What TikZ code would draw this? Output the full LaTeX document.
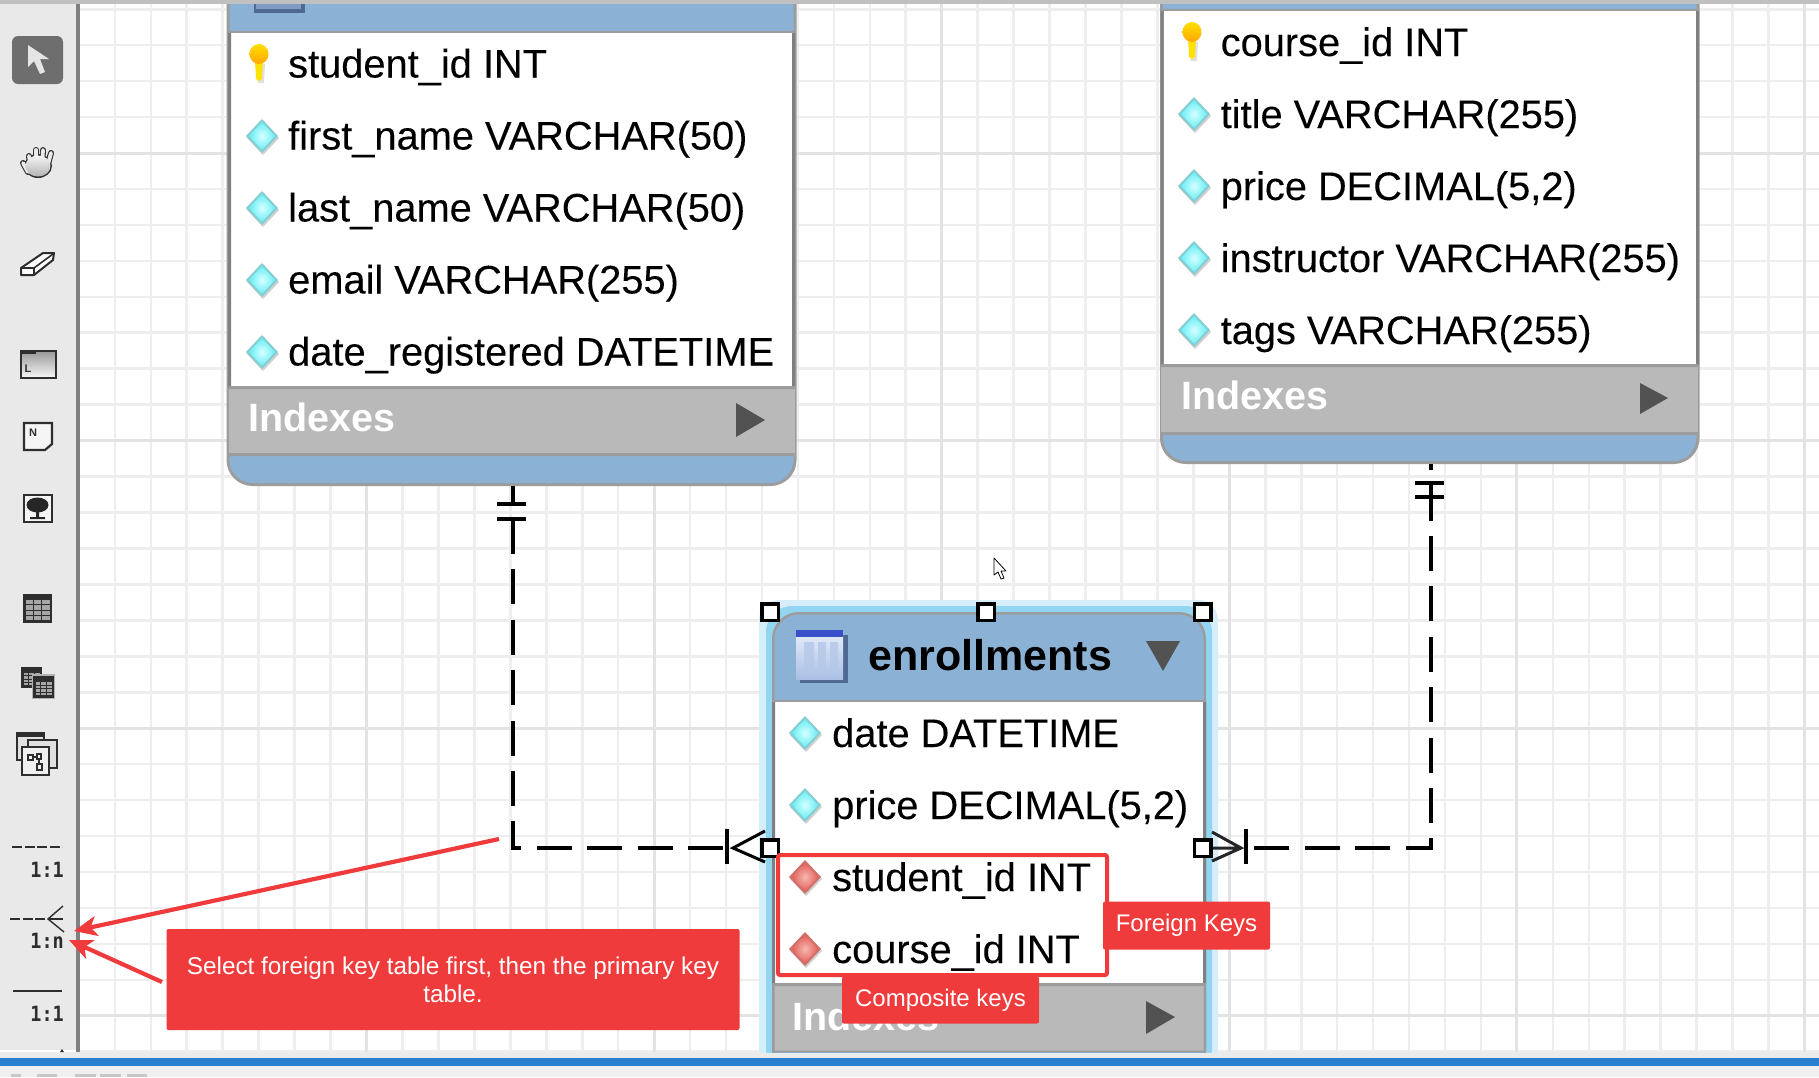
\documentclass[tikz,border=0pt]{standalone}
\usepackage{fontspec}
\setmainfont{Liberation Sans}
\newfontfamily\toolfont{DejaVu Sans Mono}
\newfontfamily\colfont[FakeBold=0.12]{Liberation Sans}
\usetikzlibrary{arrows.meta,shapes.geometric}
\definecolor{hdrblue}{HTML}{8BB2D5}
\definecolor{idxgray}{HTML}{B9B9B9}
\definecolor{edgegray}{HTML}{9C9C9C}
\definecolor{sidegray}{HTML}{808080}
\definecolor{annred}{HTML}{F03B3D}
\definecolor{gridminor}{HTML}{EEEEEE}
\definecolor{gridmajor}{HTML}{E3E3E3}
\definecolor{toolbg}{HTML}{E9E9E9}
\definecolor{tooldark}{HTML}{2E2E2E}
\definecolor{barblue}{HTML}{2B7FD0}
\definecolor{diaedge}{HTML}{86CDD2}
\definecolor{diain}{HTML}{D8FFFF}
\definecolor{diaout}{HTML}{66EEF4}
\definecolor{rededge}{HTML}{D0706A}
\definecolor{redin}{HTML}{F6B8B0}
\definecolor{redout}{HTML}{E4605A}
\definecolor{glowpale}{HTML}{D6EEFA}
\definecolor{glowblue}{HTML}{92D5F0}
\definecolor{iconshadow}{HTML}{4E6A92}
\definecolor{iconlight}{HTML}{E6EEFB}
\definecolor{icondim}{HTML}{A9BFE3}
\definecolor{iconcol}{HTML}{B4C8E8}
\definecolor{icontop}{HTML}{3A4FC8}
\definecolor{iconmid}{HTML}{7E9CC4}
\tikzset{
  coltext/.style={font=\colfont\fontsize{39.8}{40}\selectfont,anchor=base west,inner sep=0pt,text=black},
  idxtext/.style={font=\fontsize{39.5}{40}\selectfont\bfseries,anchor=base west,inner sep=0pt,text=white},
  titletext/.style={font=\fontsize{43}{44}\selectfont\bfseries,anchor=base west,inner sep=0pt,text=black},
  notebox/.style={fill=annred,rounded corners=2pt,text=white,inner sep=0pt,font=\fontsize{24}{28}\selectfont,align=center},
  selhandle/.style={draw=black,line width=3.5pt,fill=white,minimum size=16.5pt,inner sep=0pt,rectangle},
  fkline/.style={draw=black,line width=3.2pt,dash pattern=on 35pt off 15.4pt},
  solidline/.style={draw=black,line width=3.2pt},
  annarrow/.style={draw=annred,line width=4.2pt,-{Stealth[length=23pt,width=20pt,inset=6pt]}},
  bodybox/.style={rectangle,fill=white,inner sep=0pt,anchor=north west},
  toollabel/.style={inner sep=0pt,anchor=base east,text=tooldark},
  pics/attrc/.style={code={
    \fill[black,opacity=.18] (1,-15) -- (17,2) -- (1,19) -- (-15,2) -- cycle;
    \fill[diaedge] (0,-17) -- (16,0) -- (0,17) -- (-16,0) -- cycle;
    \shade[inner color=diain,outer color=diaout] (0,-14) -- (13,0) -- (0,14) -- (-13,0) -- cycle;
  }},
  pics/attrr/.style={code={
    \fill[black,opacity=.18] (1,-15) -- (17,2) -- (1,19) -- (-15,2) -- cycle;
    \fill[rededge] (0,-17) -- (16,0) -- (0,17) -- (-16,0) -- cycle;
    \shade[inner color=redin,outer color=redout] (0,-14) -- (13,0) -- (0,14) -- (-13,0) -- cycle;
  }},
  pics/pkkey/.style={code={
    \fill[black,opacity=.12] (-4,0) -- (6,0) -- (5,19) -- (-1,19) -- cycle;
    \fill[yellow!85!orange] (-4,-6) -- (4,-6) -- (3,15) -- (0,17) -- (-3,15) -- cycle;
    \shade[top color=yellow!75!orange,bottom color=orange!70!yellow] (0,-10) ellipse[x radius=9.5,y radius=10];
  }},
  pics/gridicon/.style 2 args={code={
    \fill[tooldark] (0,0) rectangle (#1,#2);
    \pgfmathsetmacro\cw{(#1-4)/3}
    \pgfmathsetmacro\rh{(#2-8)/4}
    \foreach \i in {0,1,2} \foreach \j in {0,1,2,3}
      \fill[black!35!white] ({2.5+\i*\cw},{6+\j*\rh}) rectangle ({1.5+(\i+1)*\cw},{5+(\j+1)*\rh});
  }},
}
\begin{document}
\begin{tikzpicture}[x=1pt,y=-1pt]
\useasboundingbox (0,0) rectangle (1819,1077);
\fill[white] (0,0) rectangle (1819,1077);
% ---- canvas grid
\begin{scope}
\clip (80,4) rectangle (1819,1052);
\foreach \k in {0,...,49}
  \draw[gridminor,line width=2.6pt] ({78.9+35.95*\k},0) -- ({78.9+35.95*\k},1060);
\foreach \k in {0,...,29}
  \draw[gridminor,line width=2.6pt] (0,{9.2+35.95*\k}) -- (1819,{9.2+35.95*\k});
\foreach \k in {0,...,6}
  \draw[gridmajor,line width=3pt] ({78.9+287.6*\k},0) -- ({78.9+287.6*\k},1060);
\foreach \k in {0,...,3}
  \draw[gridmajor,line width=3pt] (0,{153+287.6*\k}) -- (1819,{153+287.6*\k});
\end{scope}
% ---- frame
\fill[idxgray!90!white] (0,0) rectangle (1819,4);
\fill[toolbg] (0,4) rectangle (76,1050);
\fill[sidegray] (76,4) rectangle (79.5,1052);
\fill[white!92!black] (0,1052) rectangle (1819,1058);
\fill[barblue] (0,1058) rectangle (1819,1066);
\fill[black!6] (0,1066) rectangle (1819,1077);
\foreach \a/\b in {11/21,37/57,75/96,100/121,127/147}
  \fill[black!22] (\a,1074) rectangle (\b,1077);

% ---- toolbar icons
\fill[black!57,rounded corners=6pt] (12,36) rectangle (63,84);
\fill[black!10] (28,45) -- (28,67) -- (34,61) -- (40,74) -- (45,72) -- (40,59) -- (49,59) -- cycle;
% hand
\begin{scope}[line cap=round]
\foreach \a/\b/\c/\d in {23/163/28/172, 29/156/31/168, 36/150/36/167, 43/150/42/167, 51/153/47/168}{
  \draw[black!80,line width=6pt] (\a,\b) -- (\c,\d);
}
\fill[black!80] (38,166) ellipse[x radius=14,y radius=12];
\foreach \a/\b/\c/\d in {23/163/28/172, 29/156/31/168, 36/150/36/167, 43/150/42/167, 51/153/47/168}{
  \draw[black!8,line width=3.8pt] (\a,\b) -- (\c,\d);
}
\shade[top color=black!4,bottom color=black!30] (38,166) ellipse[x radius=12.5,y radius=10.5];
\end{scope}
% eraser
\draw[tooldark,line width=2pt,fill=white,line join=round] (21,268) -- (43,253) -- (54,253) -- (53,260) -- (34,275) -- (21,275) -- cycle;
\draw[tooldark,line width=1.6pt] (21,268) -- (34,268) -- (53,254) (34,268) -- (34,275);
% layer
\shade[top color=black!40,bottom color=black!3,draw=tooldark,line width=2.2pt] (21,351) rectangle (56,378);
\fill[tooldark] (21,351) rectangle (36,354);
\node[inner sep=0pt,font=\fontsize{11}{11}\selectfont\bfseries,text=tooldark] (layerL) at (28,369) {L};
% note
\draw[tooldark,line width=2.2pt,fill=black!4] (24,423) -- (52,423) -- (52,444) -- (45,450) -- (24,450) -- cycle;
\node[inner sep=0pt,font=\fontsize{11}{11}\selectfont\bfseries,text=tooldark] (noteN) at (33,433) {N};
% image
\draw[tooldark,line width=2.2pt,fill=black!4] (24,495) rectangle (52,522);
\fill[black!85] (37.5,505) ellipse[x radius=11,y radius=7.5];
\fill[black!85] (36,511) rectangle (39,517) (30,517) rectangle (45,519);
% table tools
\path (23,594) pic {gridicon={29}{29}};
\path (21,667) pic {gridicon={21}{21}};
\fill[black!30!white] (31.5,674) rectangle (55,699);
\path (33,676) pic {gridicon={21}{22}};
% routine group
\draw[tooldark,line width=2.6pt,fill=black!12] (17,733) rectangle (44,760);
\fill[tooldark] (17,733) rectangle (44,737);
\draw[tooldark,line width=2.6pt,fill=black!12] (28,740) rectangle (57,768);
\draw[tooldark,line width=2.6pt,fill=black!6] (22,747) rectangle (49,775);
\draw[tooldark,line width=1.3pt] (28,755) rectangle (33,760) (37,754) rectangle (41,759) (37,764) rectangle (42,770) (33,757) -- (37,757) (39,759) -- (39,764);
% relation tools
\draw[tooldark,line width=1.8pt,dash pattern=on 10pt off 2.5pt] (12,847) -- (62,847);
\node[toollabel,font=\toolfont\fontsize{21}{21}\selectfont\bfseries] (toolA) at (64,877) {\scalebox{.88}[1]{1:1}};
\draw[tooldark,line width=1.8pt,dash pattern=on 10pt off 2.5pt] (10,919) -- (48,919);
\draw[tooldark,line width=1.4pt] (63,906) -- (48,919) -- (64,932);
\draw[tooldark,line width=1.4pt] (48,919) -- (63,919);
\node[toollabel,font=\toolfont\fontsize{21}{21}\selectfont\bfseries] (toolB) at (64,948) {\scalebox{.88}[1]{1:n}};
\draw[tooldark,line width=1.8pt] (13,991) -- (62,991);
\node[toollabel,font=\toolfont\fontsize{21}{21}\selectfont\bfseries] (toolC) at (64,1021) {\scalebox{.88}[1]{1:1}};
\fill[tooldark] (62,1049) -- (64,1052) -- (60,1052) -- cycle;

% ---- students table
\fill[edgegray] (226.5,4) -- (796.5,4) -- (796.5,460) arc[start angle=0,end angle=90,radius=26] -- (252.5,486) arc[start angle=90,end angle=180,radius=26] -- cycle;
\fill[hdrblue] (229.5,4) -- (793.5,4) -- (793.5,460) arc[start angle=0,end angle=90,radius=23] -- (252.5,483) arc[start angle=90,end angle=180,radius=23] -- cycle;
\fill[iconshadow] (254,4) rectangle (305,13);
\fill[iconmid] (256,4) rectangle (301,9);
\node[bodybox,minimum width=561pt,minimum height=354pt] (studentsBody) at (231,33) {};
\fill[edgegray] (229.5,31) rectangle (793.5,33);
\fill[sidegray] (228,33) rectangle (231,387) (792,33) rectangle (795,387);
\fill[idxgray] (228.5,387) rectangle (794.5,455);
\fill[edgegray] (228.5,386) rectangle (794.5,389) (228.5,453) rectangle (794.5,456);
\path (259,64) pic {pkkey};
\path (262,136) pic {attrc};
\path (262,208) pic {attrc};
\path (262,280) pic {attrc};
\path (262,352) pic {attrc};
\node[coltext] (s1) at (288,77.5) {student\_id INT};
\node[coltext] (s2) at (288,149.5) {first\_name VARCHAR(50)};
\node[coltext] (s3) at (288,221.5) {last\_name VARCHAR(50)};
\node[coltext] (s4) at (288,293.5) {email VARCHAR(255)};
\node[coltext] (s5) at (288,365.5) {date\_registered DATETIME};
\node[idxtext] (sIdx) at (248,431) {Indexes};
\fill[black!68] (736,403) -- (765,420) -- (736,437) -- cycle;

% ---- courses table
\fill[edgegray] (1160,4) -- (1699.5,4) -- (1699.5,438) arc[start angle=0,end angle=90,radius=26] -- (1186,464) arc[start angle=90,end angle=180,radius=26] -- cycle;
\fill[hdrblue] (1163,4) -- (1696.5,4) -- (1696.5,438) arc[start angle=0,end angle=90,radius=23] -- (1186,461) arc[start angle=90,end angle=180,radius=23] -- cycle;
\node[bodybox,minimum width=533pt,minimum height=354pt] (coursesBody) at (1163.5,11) {};
\fill[edgegray] (1161,9) rectangle (1698,11);
\fill[sidegray] (1160.5,11) rectangle (1163.5,365) (1696,11) rectangle (1699,365);
\fill[idxgray] (1161,365) rectangle (1698,434);
\fill[edgegray] (1161,364) rectangle (1698,367) (1161,432) rectangle (1698,435);
\path (1192,42) pic {pkkey};
\path (1194,114) pic {attrc};
\path (1194,186) pic {attrc};
\path (1194,258) pic {attrc};
\path (1194,330) pic {attrc};
\node[coltext] (c1) at (1220.5,56) {course\_id INT};
\node[coltext] (c2) at (1220.5,128) {title VARCHAR(255)};
\node[coltext] (c3) at (1220.5,200) {price DECIMAL(5,2)};
\node[coltext] (c4) at (1220.5,272) {instructor VARCHAR(255)};
\node[coltext] (c5) at (1220.5,344) {tags VARCHAR(255)};
\node[idxtext] (cIdx) at (1181,409) {Indexes};
\fill[black!68] (1640,383) -- (1668,398) -- (1640,414) -- cycle;

% ---- connector anchors
\coordinate (stuOut) at (513,486);
\coordinate (stuBarA) at (513,504);
\coordinate (stuBarB) at (513,519);
\coordinate (stuTurn) at (513,848);
\coordinate (enrBarL) at (727,848);
\coordinate (crsOut) at (1431,464);
\coordinate (crsStub) at (1431,470);
\coordinate (crsBarA) at (1431,483);
\coordinate (crsBarB) at (1431,497);
\coordinate (crsDash) at (1431,485.6);
\coordinate (crsTurn) at (1431,848);
\coordinate (enrBarR) at (1246,848);

% ---- enrollments table
\begin{scope}
\clip (750,590) rectangle (1230,1052);
\fill[glowpale,rounded corners=20pt] (759,600) -- (1218,600) -- (1218,1075) -- (759,1075) -- cycle;
\fill[glowblue,rounded corners=26pt] (766,606) -- (1212,606) -- (1212,1075) -- (766,1075) -- cycle;
\fill[edgegray,rounded corners=27pt] (772,612) -- (1206,612) -- (1206,1075) -- (772,1075) -- cycle;
\fill[hdrblue,rounded corners=25pt] (774.5,614.5) -- (1203.5,614.5) -- (1203.5,1075) -- (774.5,1075) -- cycle;
\end{scope}
\node[bodybox,minimum width=428pt,minimum height=282pt] (enrollBody) at (775,702) {};
\fill[edgegray] (772,700) rectangle (1206,702);
\fill[sidegray] (772,702) rectangle (775,984) (1203,702) rectangle (1206,984);
\fill[idxgray] (772,984) rectangle (1206,1052);
\fill[edgegray] (772,983) rectangle (1206,986) (772,984) rectangle (774.5,1052) (1203.5,984) rectangle (1206,1052) (772,1050.5) rectangle (1206,1052);
% table icon
\fill[iconshadow] (800,635) rectangle (848,683);
\shade[top color=iconlight,bottom color=icondim] (796,632) rectangle (843,679);
\fill[icontop] (796,630) rectangle (843,637);
\fill[iconcol,opacity=.8] (804,642) rectangle (814,672) (818,642) rectangle (826,672) (830,642) rectangle (838,672);
\node[titletext] (eTitle) at (868,670) {enrollments};
\fill[black!68] (1146,641) -- (1180,641) -- (1163,671) -- cycle;
\path (805,733) pic {attrc};
\path (805,805) pic {attrc};
\path (805,877) pic {attrr};
\path (805,949) pic {attrr};
\node[coltext] (e1) at (832,747) {date DATETIME};
\node[coltext] (e2) at (832,819) {price DECIMAL(5,2)};
\node[coltext] (e3) at (832,891) {student\_id INT};
\node[coltext] (e4) at (832,963) {course\_id INT};
\node[idxtext] (eIdx) at (792,1030) {Indexes};
\fill[black!68] (1146,1001) -- (1175,1017) -- (1146,1034) -- cycle;

% ---- connectors
\draw[solidline] (stuOut) -- (stuBarA);
\draw[solidline] (497,504) -- (526,504);
\draw[solidline] (497,519) -- (526,519);
\draw[fkline] (stuBarB) -- (stuTurn) -- (enrBarL);
\draw[solidline] (727,829) -- (727,864);
\draw[draw=black,line width=3pt] (765,831) -- (733,848) -- (765,862);
\draw[solidline] (crsOut) -- (crsStub);
\draw[solidline] (1415,483) -- (1444,483);
\draw[solidline] (1415,497) -- (1444,497);
\draw[solidline] (crsBarA) -- (crsDash);
\draw[fkline] (crsDash) -- (crsTurn) -- (enrBarR);
\draw[solidline] (1246,829) -- (1246,864);
\draw[draw=black!85,line width=3pt] (1212,832) -- (1241,848) -- (1212,861) (1212,848) -- (1241,848);

% ---- selection handles
\node[selhandle] (hTL) at (770,612) {};
\node[selhandle] (hTM) at (986,612) {};
\node[selhandle] (hTR) at (1202.5,612) {};
\node[selhandle] (hML) at (770,848) {};
\node[selhandle] (hMR) at (1202.5,848) {};

% ---- cursor
\draw[black,fill=white,line width=.8pt,line join=round] (994,558) -- (994,575) -- (998,572) -- (1001,579) -- (1004,578) -- (1001,571) -- (1006,571) -- cycle;

% ---- annotations
\draw[annred,line width=4pt,rounded corners=2pt] (778,855) rectangle (1107,975);
\node[notebox,minimum width=167pt,minimum height=48pt] (fkNote) at (1186.5,925.5) {Foreign Keys};
\node[notebox,minimum width=197pt,minimum height=47pt] (ckNote) at (940.5,1000) {Composite keys};
\node[notebox,minimum width=573pt,minimum height=101pt,font=\fontsize{24.3}{28}\selectfont] (selNote) at (453,979.5) {Select foreign key table first, then the primary key\\table.};
\coordinate (annStartA) at (499,839);
\coordinate (annTipA) at (74,931);
\coordinate (annStartB) at (162,982);
\coordinate (annTipB) at (69,940);
\draw[annarrow] (annStartA) -- (annTipA);
\draw[annarrow] (annStartB) -- (annTipB);
\end{tikzpicture}
\end{document}
